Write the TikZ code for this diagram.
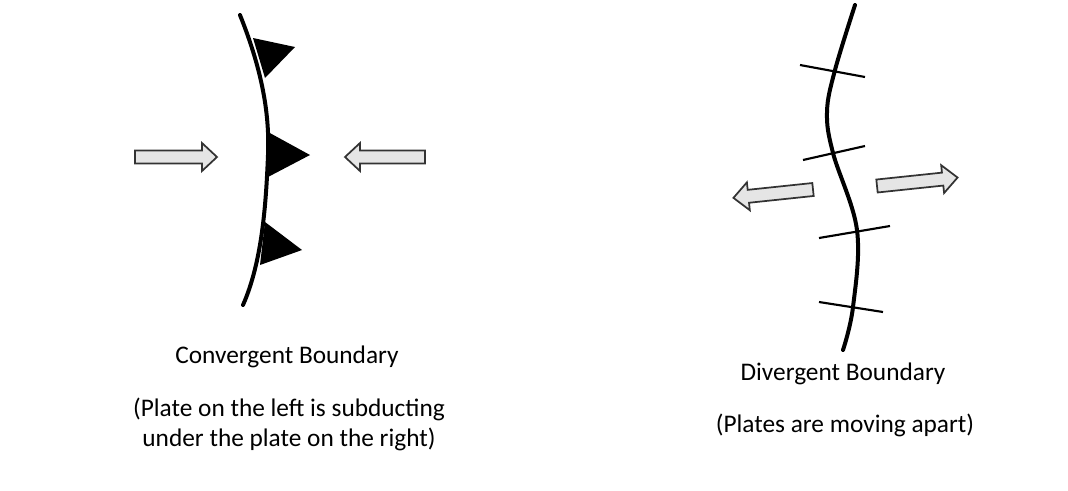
\documentclass[tikz,border=0pt]{standalone}
\usepackage{fontspec}
\setmainfont{Carlito}
\usepackage{tikz}
\usetikzlibrary{calc}
\tikzset{
  fault/.style={line width=3pt,line cap=round},
  tick/.style={line width=1.6pt},
  tooth/.style={fill=black},
  arrowbox/.style={draw=black!80,line width=1.3pt,fill=black!10,line join=miter},
  caption/.style={anchor=base,font=\fontsize{19}{22.5}\selectfont,align=center}
}
% block arrow: tail x, tail y, angle, length
\newcommand{\platearrow}[4]{%
  \begin{scope}[shift={(#1,#2)},rotate=#3]
    \draw[arrowbox] (0,-6.5) -- ({#4-15},-6.5) -- ({#4-15},-14) -- (#4,0)
      -- ({#4-15},14) -- ({#4-15},6.5) -- (0,6.5) -- cycle;
  \end{scope}}

\begin{document}
\begin{tikzpicture}[x=0.75pt,y=-0.75pt]
  \useasboundingbox (0,0) rectangle (1068,490);
  % convergent boundary
  \draw[fault] (240,15) .. controls (260,65) and (270,110) .. (268,155)
    .. controls (266,205) and (262,262) .. (243,305);
  \fill[tooth] (253,38) -- (295,47) -- (265,78) -- cycle;
  \fill[tooth] (268,132) -- (310,155) -- (268,177) -- cycle;
  \fill[tooth] (265,222) -- (302,250) -- (260,265) -- cycle;
  \platearrow{135}{157}{0}{82}
  \platearrow{425}{157}{180}{80}
  \node[caption] (convtitle) at (287,363) {Convergent Boundary};
  \node[caption] (convnote) at (289,446) {(Plate on the left is subducting\\under the plate on the right)};
  % divergent boundary
  \draw[fault] plot[smooth,tension=0.6] coordinates
    {(855,5) (835,70) (827,112) (833,153) (857,230) (853,307) (843,350)};
  \draw[tick] (800,65) -- (865,77);
  \draw[tick] (803,160) -- (865,146);
  \draw[tick] (819,238) -- (890,226);
  \draw[tick] (819,302) -- (883,312);
  \platearrow{813}{189.5}{186}{80}
  \platearrow{877}{186}{6}{81}
  \node[caption] (divtitle) at (843,380) {Divergent Boundary};
  \node[caption] (divnote) at (845,432) {(Plates are moving apart)};
\end{tikzpicture}
\end{document}
